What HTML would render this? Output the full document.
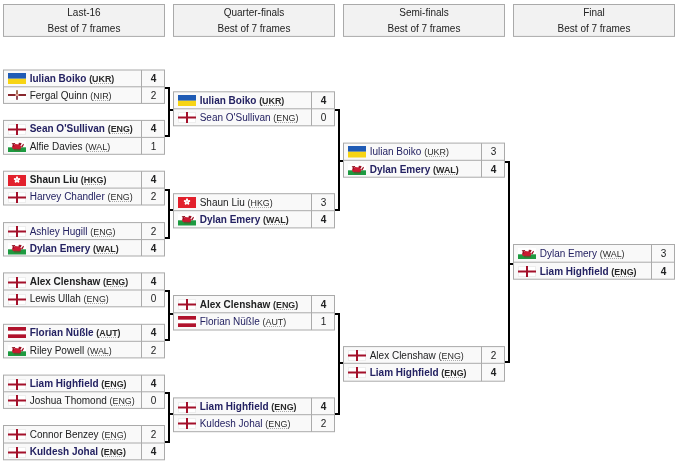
<!DOCTYPE html>
<html><head><meta charset="utf-8">
<style>
html,body{margin:0;padding:0;background:#fff;width:680px;height:464px;overflow:hidden}
body{position:relative;font-family:"Liberation Sans",sans-serif;font-size:10px;color:#202122}
#bg{position:absolute;left:0;top:0}
#tx{position:absolute;left:0;top:0;width:680px;height:464px;will-change:transform}
.hd{position:absolute;top:4px;width:162px;height:33px;text-align:center;color:#222}
.h1{position:absolute;left:0;right:0;top:3px;line-height:12px}
.h2{position:absolute;left:0;right:0;top:18.5px;line-height:12px}
.fl{position:absolute;display:block}
.nm{position:absolute;white-space:nowrap;line-height:12px;font-size:10px}
.nm.lk{color:#242262}
.b{font-weight:bold}
.cc{font-size:8.9px;color:#2a2a2a}
.cc u{text-decoration:underline dotted #aaa;text-underline-offset:1px}
.sc{position:absolute;width:23px;text-align:center;line-height:12px}
</style></head><body>
<svg id="bg" width="680" height="464" viewBox="0 0 680 464" fill="#000">
<rect x="3.5" y="4.5" width="161" height="31.9" fill="#f2f2f2" stroke="#aaa"/>
<rect x="173.5" y="4.5" width="161" height="31.9" fill="#f2f2f2" stroke="#aaa"/>
<rect x="343.5" y="4.5" width="161" height="31.9" fill="#f2f2f2" stroke="#aaa"/>
<rect x="513.5" y="4.5" width="161" height="31.9" fill="#f2f2f2" stroke="#aaa"/>
<rect x="3.5" y="70.0" width="161" height="33.4" fill="#f9f9f9" stroke="#aaa"/>
<path d="M3 86.8H165M141.5 70.0V103.4" stroke="#aaa"/>
<rect x="3.5" y="120.4" width="161" height="33.9" fill="#f9f9f9" stroke="#aaa"/>
<path d="M3 137.4H165M141.5 120.4V154.3" stroke="#aaa"/>
<rect x="3.5" y="171.2" width="161" height="33.8" fill="#f9f9f9" stroke="#aaa"/>
<path d="M3 188.1H165M141.5 171.2V205.0" stroke="#aaa"/>
<rect x="3.5" y="222.6" width="161" height="33.4" fill="#f9f9f9" stroke="#aaa"/>
<path d="M3 239.6H165M141.5 222.6V256.0" stroke="#aaa"/>
<rect x="3.5" y="272.9" width="161" height="33.9" fill="#f9f9f9" stroke="#aaa"/>
<path d="M3 290.0H165M141.5 272.9V306.8" stroke="#aaa"/>
<rect x="3.5" y="324.3" width="161" height="33.6" fill="#f9f9f9" stroke="#aaa"/>
<path d="M3 341.3H165M141.5 324.3V357.9" stroke="#aaa"/>
<rect x="3.5" y="375.1" width="161" height="33.3" fill="#f9f9f9" stroke="#aaa"/>
<path d="M3 391.8H165M141.5 375.1V408.4" stroke="#aaa"/>
<rect x="3.5" y="425.5" width="161" height="34.3" fill="#f9f9f9" stroke="#aaa"/>
<path d="M3 443.0H165M141.5 425.5V459.8" stroke="#aaa"/>
<rect x="173.5" y="91.8" width="161" height="34.0" fill="#f9f9f9" stroke="#aaa"/>
<path d="M173 108.8H335M311.5 91.8V125.8" stroke="#aaa"/>
<rect x="173.5" y="193.7" width="161" height="34.2" fill="#f9f9f9" stroke="#aaa"/>
<path d="M173 210.7H335M311.5 193.7V227.9" stroke="#aaa"/>
<rect x="173.5" y="295.5" width="161" height="34.5" fill="#f9f9f9" stroke="#aaa"/>
<path d="M173 312.8H335M311.5 295.5V330.0" stroke="#aaa"/>
<rect x="173.5" y="397.9" width="161" height="33.8" fill="#f9f9f9" stroke="#aaa"/>
<path d="M173 414.7H335M311.5 397.9V431.7" stroke="#aaa"/>
<rect x="343.5" y="143.1" width="161" height="34.1" fill="#f9f9f9" stroke="#aaa"/>
<path d="M343 160.3H505M481.5 143.1V177.2" stroke="#aaa"/>
<rect x="343.5" y="346.6" width="161" height="34.6" fill="#f9f9f9" stroke="#aaa"/>
<path d="M343 363.3H505M481.5 346.6V381.2" stroke="#aaa"/>
<rect x="513.5" y="244.5" width="161" height="34.7" fill="#f9f9f9" stroke="#aaa"/>
<path d="M513 262.2H675M651.5 244.5V279.2" stroke="#aaa"/>
<rect x="165" y="87" width="5" height="2"/><rect x="168" y="87" width="2" height="50"/><rect x="165" y="135" width="5" height="2"/><rect x="170" y="109" width="3" height="2"/>
<rect x="165" y="189" width="5" height="2"/><rect x="168" y="189" width="2" height="50"/><rect x="165" y="237" width="5" height="2"/><rect x="170" y="209" width="3" height="2"/>
<rect x="165" y="290" width="5" height="2"/><rect x="168" y="290" width="2" height="51"/><rect x="165" y="339" width="5" height="2"/><rect x="170" y="313" width="3" height="2"/>
<rect x="165" y="392" width="5" height="2"/><rect x="168" y="392" width="2" height="51"/><rect x="165" y="441" width="5" height="2"/><rect x="170" y="413" width="3" height="2"/>
<rect x="335" y="109" width="5" height="2"/><rect x="338" y="109" width="2" height="102"/><rect x="335" y="209" width="5" height="2"/><rect x="340" y="160" width="3" height="2"/>
<rect x="335" y="313" width="5" height="2"/><rect x="338" y="313" width="2" height="102"/><rect x="335" y="413" width="5" height="2"/><rect x="340" y="362" width="3" height="2"/>
<rect x="505" y="161" width="5" height="2"/><rect x="508" y="161" width="2" height="202"/><rect x="505" y="361" width="5" height="2"/><rect x="510" y="263" width="3" height="2"/>
</svg>
<div id="tx">
<div class="hd" style="left:3px"><div class="h1">Last-16</div><div class="h2">Best of 7 frames</div></div>
<div class="hd" style="left:173px"><div class="h1">Quarter-finals</div><div class="h2">Best of 7 frames</div></div>
<div class="hd" style="left:343px"><div class="h1">Semi-finals</div><div class="h2">Best of 7 frames</div></div>
<div class="hd" style="left:513px"><div class="h1">Final</div><div class="h2">Best of 7 frames</div></div>
<svg class="fl" style="left:8px;top:72.9px" width="18" height="11.5" viewBox="0 0 18 11.5"><rect width="18" height="5.75" fill="#1f5bb5"/><rect y="5.75" width="18" height="5.75" fill="#f7d414"/></svg>
<div class="nm b lk" style="left:29.7px;top:73.0px">Iulian Boiko <span class="cc">(<u>UKR</u>)</span></div>
<div class="sc b" style="left:142px;top:73.0px">4</div>
<svg class="fl" style="left:8px;top:90.2px" width="18" height="10" viewBox="0 0 18 10"><rect width="18" height="10" fill="#fff"/><rect y="4.1" width="18" height="1.8" fill="#7c1018"/><rect x="8.2" y="0.2" width="1.6" height="4.0" fill="#8a4a30"/><rect x="8.2" y="5.9" width="1.6" height="3.9" fill="#742030"/><rect x="7.4" y="4.1" width="3.2" height="1.8" fill="#f0b8a8"/></svg>
<div class="nm" style="left:29.7px;top:90.1px">Fergal Quinn <span class="cc">(<u>NIR</u>)</span></div>
<div class="sc" style="left:142px;top:90.1px">2</div>
<svg class="fl" style="left:8px;top:124.0px" width="18" height="11" viewBox="0 0 18 11"><rect x=".5" y=".5" width="17" height="10" fill="#fff" stroke="#eee"/><rect x="8.0" width="2" height="11" fill="#a3102a"/><rect y="4.5" width="18" height="2" fill="#a3102a"/></svg>
<div class="nm b lk" style="left:29.7px;top:123.4px">Sean O'Sullivan <span class="cc">(<u>ENG</u>)</span></div>
<div class="sc b" style="left:142px;top:123.4px">4</div>
<svg class="fl" style="left:8px;top:140.8px" width="18" height="11.5" viewBox="0 0 18 11.5"><rect width="18" height="11.5" fill="#fff"/><rect y="6.3" width="18" height="5.2" fill="#1d9a40"/><path d="M4 6 C4.6 3.6 6.6 2.8 8.6 3.2 C10.6 3 12.2 3.8 13 5.2 L13.2 7.4 L10.5 8.2 L7.5 7.8 L5 8.3 Z" fill="#cc1a32"/><path d="M3.6 2.3 L7.2 1.9 L7 3 L5.8 3.2 L6.4 5.6 L5 5.8 L4.6 3.4 Z" fill="#8e1424"/><path d="M10.3 4 L10.9 1.8 L13.6 2.0 L12.8 4.5 Z" fill="#9a1426"/><path d="M13 5.6 L15.3 2.8 L16 3.4 L14.4 6.6 Z" fill="#a01426"/><path d="M5.5 7.8 L13 7.8 L12.5 9.4 L6.5 9.4 Z" fill="#7a3020" opacity=".55"/></svg>
<div class="nm" style="left:29.7px;top:140.7px">Alfie Davies <span class="cc">(<u>WAL</u>)</span></div>
<div class="sc" style="left:142px;top:140.7px">1</div>
<svg class="fl" style="left:8px;top:174.7px" width="18" height="11" viewBox="0 0 18 11"><rect width="18" height="11" fill="#e2202c"/><ellipse cx="9.00" cy="3.10" rx="1.1" ry="1.8" transform="rotate(0 9.00 3.10)" fill="#fff"/><ellipse cx="10.52" cy="4.21" rx="1.1" ry="1.8" transform="rotate(72 10.52 4.21)" fill="#fff"/><ellipse cx="9.94" cy="5.99" rx="1.1" ry="1.8" transform="rotate(144 9.94 5.99)" fill="#fff"/><ellipse cx="8.06" cy="5.99" rx="1.1" ry="1.8" transform="rotate(216 8.06 5.99)" fill="#fff"/><ellipse cx="7.48" cy="4.21" rx="1.1" ry="1.8" transform="rotate(288 7.48 4.21)" fill="#fff"/><circle cx="9.0" cy="4.7" r=".5" fill="#e2202c"/></svg>
<div class="nm b" style="left:29.7px;top:174.2px">Shaun Liu <span class="cc">(<u>HKG</u>)</span></div>
<div class="sc b" style="left:142px;top:174.2px">4</div>
<svg class="fl" style="left:8px;top:191.7px" width="18" height="11" viewBox="0 0 18 11"><rect x=".5" y=".5" width="17" height="10" fill="#fff" stroke="#eee"/><rect x="8.0" width="2" height="11" fill="#a3102a"/><rect y="4.5" width="18" height="2" fill="#a3102a"/></svg>
<div class="nm lk" style="left:29.7px;top:191.4px">Harvey Chandler <span class="cc">(<u>ENG</u>)</span></div>
<div class="sc" style="left:142px;top:191.4px">2</div>
<svg class="fl" style="left:8px;top:226.2px" width="18" height="11" viewBox="0 0 18 11"><rect x=".5" y=".5" width="17" height="10" fill="#fff" stroke="#eee"/><rect x="8.0" width="2" height="11" fill="#a3102a"/><rect y="4.5" width="18" height="2" fill="#a3102a"/></svg>
<div class="nm lk" style="left:29.7px;top:225.6px">Ashley Hugill <span class="cc">(<u>ENG</u>)</span></div>
<div class="sc" style="left:142px;top:225.6px">2</div>
<svg class="fl" style="left:8px;top:243.0px" width="18" height="11.5" viewBox="0 0 18 11.5"><rect width="18" height="11.5" fill="#fff"/><rect y="6.3" width="18" height="5.2" fill="#1d9a40"/><path d="M4 6 C4.6 3.6 6.6 2.8 8.6 3.2 C10.6 3 12.2 3.8 13 5.2 L13.2 7.4 L10.5 8.2 L7.5 7.8 L5 8.3 Z" fill="#cc1a32"/><path d="M3.6 2.3 L7.2 1.9 L7 3 L5.8 3.2 L6.4 5.6 L5 5.8 L4.6 3.4 Z" fill="#8e1424"/><path d="M10.3 4 L10.9 1.8 L13.6 2.0 L12.8 4.5 Z" fill="#9a1426"/><path d="M13 5.6 L15.3 2.8 L16 3.4 L14.4 6.6 Z" fill="#a01426"/><path d="M5.5 7.8 L13 7.8 L12.5 9.4 L6.5 9.4 Z" fill="#7a3020" opacity=".55"/></svg>
<div class="nm b lk" style="left:29.7px;top:242.9px">Dylan Emery <span class="cc">(<u>WAL</u>)</span></div>
<div class="sc b" style="left:142px;top:242.9px">4</div>
<svg class="fl" style="left:8px;top:276.5px" width="18" height="11" viewBox="0 0 18 11"><rect x=".5" y=".5" width="17" height="10" fill="#fff" stroke="#eee"/><rect x="8.0" width="2" height="11" fill="#a3102a"/><rect y="4.5" width="18" height="2" fill="#a3102a"/></svg>
<div class="nm b" style="left:29.7px;top:275.9px">Alex Clenshaw <span class="cc">(<u>ENG</u>)</span></div>
<div class="sc b" style="left:142px;top:275.9px">4</div>
<svg class="fl" style="left:8px;top:293.6px" width="18" height="11" viewBox="0 0 18 11"><rect x=".5" y=".5" width="17" height="10" fill="#fff" stroke="#eee"/><rect x="8.0" width="2" height="11" fill="#a3102a"/><rect y="4.5" width="18" height="2" fill="#a3102a"/></svg>
<div class="nm" style="left:29.7px;top:293.3px">Lewis Ullah <span class="cc">(<u>ENG</u>)</span></div>
<div class="sc" style="left:142px;top:293.3px">0</div>
<svg class="fl" style="left:8px;top:327.3px" width="18" height="11" viewBox="0 0 18 11"><rect width="18" height="11" fill="#fff"/><rect width="18" height="3.6666666666666665" fill="#b0122c"/><rect y="7.333333333333333" width="18" height="3.6666666666666665" fill="#b0122c"/></svg>
<div class="nm b lk" style="left:29.7px;top:327.3px">Florian Nüßle <span class="cc">(<u>AUT</u>)</span></div>
<div class="sc b" style="left:142px;top:327.3px">4</div>
<svg class="fl" style="left:8px;top:344.7px" width="18" height="11.5" viewBox="0 0 18 11.5"><rect width="18" height="11.5" fill="#fff"/><rect y="6.3" width="18" height="5.2" fill="#1d9a40"/><path d="M4 6 C4.6 3.6 6.6 2.8 8.6 3.2 C10.6 3 12.2 3.8 13 5.2 L13.2 7.4 L10.5 8.2 L7.5 7.8 L5 8.3 Z" fill="#cc1a32"/><path d="M3.6 2.3 L7.2 1.9 L7 3 L5.8 3.2 L6.4 5.6 L5 5.8 L4.6 3.4 Z" fill="#8e1424"/><path d="M10.3 4 L10.9 1.8 L13.6 2.0 L12.8 4.5 Z" fill="#9a1426"/><path d="M13 5.6 L15.3 2.8 L16 3.4 L14.4 6.6 Z" fill="#a01426"/><path d="M5.5 7.8 L13 7.8 L12.5 9.4 L6.5 9.4 Z" fill="#7a3020" opacity=".55"/></svg>
<div class="nm" style="left:29.7px;top:344.6px">Riley Powell <span class="cc">(<u>WAL</u>)</span></div>
<div class="sc" style="left:142px;top:344.6px">2</div>
<svg class="fl" style="left:8px;top:378.7px" width="18" height="11" viewBox="0 0 18 11"><rect x=".5" y=".5" width="17" height="10" fill="#fff" stroke="#eee"/><rect x="8.0" width="2" height="11" fill="#a3102a"/><rect y="4.5" width="18" height="2" fill="#a3102a"/></svg>
<div class="nm b lk" style="left:29.7px;top:378.1px">Liam Highfield <span class="cc">(<u>ENG</u>)</span></div>
<div class="sc b" style="left:142px;top:378.1px">4</div>
<svg class="fl" style="left:8px;top:395.4px" width="18" height="11" viewBox="0 0 18 11"><rect x=".5" y=".5" width="17" height="10" fill="#fff" stroke="#eee"/><rect x="8.0" width="2" height="11" fill="#a3102a"/><rect y="4.5" width="18" height="2" fill="#a3102a"/></svg>
<div class="nm" style="left:29.7px;top:395.1px">Joshua Thomond <span class="cc">(<u>ENG</u>)</span></div>
<div class="sc" style="left:142px;top:395.1px">0</div>
<svg class="fl" style="left:8px;top:429.1px" width="18" height="11" viewBox="0 0 18 11"><rect x=".5" y=".5" width="17" height="10" fill="#fff" stroke="#eee"/><rect x="8.0" width="2" height="11" fill="#a3102a"/><rect y="4.5" width="18" height="2" fill="#a3102a"/></svg>
<div class="nm" style="left:29.7px;top:428.5px">Connor Benzey <span class="cc">(<u>ENG</u>)</span></div>
<div class="sc" style="left:142px;top:428.5px">2</div>
<svg class="fl" style="left:8px;top:446.6px" width="18" height="11" viewBox="0 0 18 11"><rect x=".5" y=".5" width="17" height="10" fill="#fff" stroke="#eee"/><rect x="8.0" width="2" height="11" fill="#a3102a"/><rect y="4.5" width="18" height="2" fill="#a3102a"/></svg>
<div class="nm b lk" style="left:29.7px;top:446.3px">Kuldesh Johal <span class="cc">(<u>ENG</u>)</span></div>
<div class="sc b" style="left:142px;top:446.3px">4</div>
<svg class="fl" style="left:178px;top:94.7px" width="18" height="11.5" viewBox="0 0 18 11.5"><rect width="18" height="5.75" fill="#1f5bb5"/><rect y="5.75" width="18" height="5.75" fill="#f7d414"/></svg>
<div class="nm b lk" style="left:199.7px;top:94.8px">Iulian Boiko <span class="cc">(<u>UKR</u>)</span></div>
<div class="sc b" style="left:312px;top:94.8px">4</div>
<svg class="fl" style="left:178px;top:112.4px" width="18" height="11" viewBox="0 0 18 11"><rect x=".5" y=".5" width="17" height="10" fill="#fff" stroke="#eee"/><rect x="8.0" width="2" height="11" fill="#a3102a"/><rect y="4.5" width="18" height="2" fill="#a3102a"/></svg>
<div class="nm lk" style="left:199.7px;top:112.1px">Sean O'Sullivan <span class="cc">(<u>ENG</u>)</span></div>
<div class="sc" style="left:312px;top:112.1px">0</div>
<svg class="fl" style="left:178px;top:197.2px" width="18" height="11" viewBox="0 0 18 11"><rect width="18" height="11" fill="#e2202c"/><ellipse cx="9.00" cy="3.10" rx="1.1" ry="1.8" transform="rotate(0 9.00 3.10)" fill="#fff"/><ellipse cx="10.52" cy="4.21" rx="1.1" ry="1.8" transform="rotate(72 10.52 4.21)" fill="#fff"/><ellipse cx="9.94" cy="5.99" rx="1.1" ry="1.8" transform="rotate(144 9.94 5.99)" fill="#fff"/><ellipse cx="8.06" cy="5.99" rx="1.1" ry="1.8" transform="rotate(216 8.06 5.99)" fill="#fff"/><ellipse cx="7.48" cy="4.21" rx="1.1" ry="1.8" transform="rotate(288 7.48 4.21)" fill="#fff"/><circle cx="9.0" cy="4.7" r=".5" fill="#e2202c"/></svg>
<div class="nm" style="left:199.7px;top:196.7px">Shaun Liu <span class="cc">(<u>HKG</u>)</span></div>
<div class="sc" style="left:312px;top:196.7px">3</div>
<svg class="fl" style="left:178px;top:214.1px" width="18" height="11.5" viewBox="0 0 18 11.5"><rect width="18" height="11.5" fill="#fff"/><rect y="6.3" width="18" height="5.2" fill="#1d9a40"/><path d="M4 6 C4.6 3.6 6.6 2.8 8.6 3.2 C10.6 3 12.2 3.8 13 5.2 L13.2 7.4 L10.5 8.2 L7.5 7.8 L5 8.3 Z" fill="#cc1a32"/><path d="M3.6 2.3 L7.2 1.9 L7 3 L5.8 3.2 L6.4 5.6 L5 5.8 L4.6 3.4 Z" fill="#8e1424"/><path d="M10.3 4 L10.9 1.8 L13.6 2.0 L12.8 4.5 Z" fill="#9a1426"/><path d="M13 5.6 L15.3 2.8 L16 3.4 L14.4 6.6 Z" fill="#a01426"/><path d="M5.5 7.8 L13 7.8 L12.5 9.4 L6.5 9.4 Z" fill="#7a3020" opacity=".55"/></svg>
<div class="nm b lk" style="left:199.7px;top:214.0px">Dylan Emery <span class="cc">(<u>WAL</u>)</span></div>
<div class="sc b" style="left:312px;top:214.0px">4</div>
<svg class="fl" style="left:178px;top:299.1px" width="18" height="11" viewBox="0 0 18 11"><rect x=".5" y=".5" width="17" height="10" fill="#fff" stroke="#eee"/><rect x="8.0" width="2" height="11" fill="#a3102a"/><rect y="4.5" width="18" height="2" fill="#a3102a"/></svg>
<div class="nm b" style="left:199.7px;top:298.5px">Alex Clenshaw <span class="cc">(<u>ENG</u>)</span></div>
<div class="sc b" style="left:312px;top:298.5px">4</div>
<svg class="fl" style="left:178px;top:315.8px" width="18" height="11" viewBox="0 0 18 11"><rect width="18" height="11" fill="#fff"/><rect width="18" height="3.6666666666666665" fill="#b0122c"/><rect y="7.333333333333333" width="18" height="3.6666666666666665" fill="#b0122c"/></svg>
<div class="nm lk" style="left:199.7px;top:316.1px">Florian Nüßle <span class="cc">(<u>AUT</u>)</span></div>
<div class="sc" style="left:312px;top:316.1px">1</div>
<svg class="fl" style="left:178px;top:401.5px" width="18" height="11" viewBox="0 0 18 11"><rect x=".5" y=".5" width="17" height="10" fill="#fff" stroke="#eee"/><rect x="8.0" width="2" height="11" fill="#a3102a"/><rect y="4.5" width="18" height="2" fill="#a3102a"/></svg>
<div class="nm b lk" style="left:199.7px;top:400.9px">Liam Highfield <span class="cc">(<u>ENG</u>)</span></div>
<div class="sc b" style="left:312px;top:400.9px">4</div>
<svg class="fl" style="left:178px;top:418.3px" width="18" height="11" viewBox="0 0 18 11"><rect x=".5" y=".5" width="17" height="10" fill="#fff" stroke="#eee"/><rect x="8.0" width="2" height="11" fill="#a3102a"/><rect y="4.5" width="18" height="2" fill="#a3102a"/></svg>
<div class="nm lk" style="left:199.7px;top:418.0px">Kuldesh Johal <span class="cc">(<u>ENG</u>)</span></div>
<div class="sc" style="left:312px;top:418.0px">2</div>
<svg class="fl" style="left:348px;top:146.0px" width="18" height="11.5" viewBox="0 0 18 11.5"><rect width="18" height="5.75" fill="#1f5bb5"/><rect y="5.75" width="18" height="5.75" fill="#f7d414"/></svg>
<div class="nm lk" style="left:369.7px;top:146.1px">Iulian Boiko <span class="cc">(<u>UKR</u>)</span></div>
<div class="sc" style="left:482px;top:146.1px">3</div>
<svg class="fl" style="left:348px;top:163.7px" width="18" height="11.5" viewBox="0 0 18 11.5"><rect width="18" height="11.5" fill="#fff"/><rect y="6.3" width="18" height="5.2" fill="#1d9a40"/><path d="M4 6 C4.6 3.6 6.6 2.8 8.6 3.2 C10.6 3 12.2 3.8 13 5.2 L13.2 7.4 L10.5 8.2 L7.5 7.8 L5 8.3 Z" fill="#cc1a32"/><path d="M3.6 2.3 L7.2 1.9 L7 3 L5.8 3.2 L6.4 5.6 L5 5.8 L4.6 3.4 Z" fill="#8e1424"/><path d="M10.3 4 L10.9 1.8 L13.6 2.0 L12.8 4.5 Z" fill="#9a1426"/><path d="M13 5.6 L15.3 2.8 L16 3.4 L14.4 6.6 Z" fill="#a01426"/><path d="M5.5 7.8 L13 7.8 L12.5 9.4 L6.5 9.4 Z" fill="#7a3020" opacity=".55"/></svg>
<div class="nm b lk" style="left:369.7px;top:163.6px">Dylan Emery <span class="cc">(<u>WAL</u>)</span></div>
<div class="sc b" style="left:482px;top:163.6px">4</div>
<svg class="fl" style="left:348px;top:350.2px" width="18" height="11" viewBox="0 0 18 11"><rect x=".5" y=".5" width="17" height="10" fill="#fff" stroke="#eee"/><rect x="8.0" width="2" height="11" fill="#a3102a"/><rect y="4.5" width="18" height="2" fill="#a3102a"/></svg>
<div class="nm" style="left:369.7px;top:349.6px">Alex Clenshaw <span class="cc">(<u>ENG</u>)</span></div>
<div class="sc" style="left:482px;top:349.6px">2</div>
<svg class="fl" style="left:348px;top:366.9px" width="18" height="11" viewBox="0 0 18 11"><rect x=".5" y=".5" width="17" height="10" fill="#fff" stroke="#eee"/><rect x="8.0" width="2" height="11" fill="#a3102a"/><rect y="4.5" width="18" height="2" fill="#a3102a"/></svg>
<div class="nm b lk" style="left:369.7px;top:366.6px">Liam Highfield <span class="cc">(<u>ENG</u>)</span></div>
<div class="sc b" style="left:482px;top:366.6px">4</div>
<svg class="fl" style="left:518px;top:247.9px" width="18" height="11.5" viewBox="0 0 18 11.5"><rect width="18" height="11.5" fill="#fff"/><rect y="6.3" width="18" height="5.2" fill="#1d9a40"/><path d="M4 6 C4.6 3.6 6.6 2.8 8.6 3.2 C10.6 3 12.2 3.8 13 5.2 L13.2 7.4 L10.5 8.2 L7.5 7.8 L5 8.3 Z" fill="#cc1a32"/><path d="M3.6 2.3 L7.2 1.9 L7 3 L5.8 3.2 L6.4 5.6 L5 5.8 L4.6 3.4 Z" fill="#8e1424"/><path d="M10.3 4 L10.9 1.8 L13.6 2.0 L12.8 4.5 Z" fill="#9a1426"/><path d="M13 5.6 L15.3 2.8 L16 3.4 L14.4 6.6 Z" fill="#a01426"/><path d="M5.5 7.8 L13 7.8 L12.5 9.4 L6.5 9.4 Z" fill="#7a3020" opacity=".55"/></svg>
<div class="nm lk" style="left:539.7px;top:247.5px">Dylan Emery <span class="cc">(<u>WAL</u>)</span></div>
<div class="sc" style="left:652px;top:247.5px">3</div>
<svg class="fl" style="left:518px;top:265.8px" width="18" height="11" viewBox="0 0 18 11"><rect x=".5" y=".5" width="17" height="10" fill="#fff" stroke="#eee"/><rect x="8.0" width="2" height="11" fill="#a3102a"/><rect y="4.5" width="18" height="2" fill="#a3102a"/></svg>
<div class="nm b lk" style="left:539.7px;top:265.5px">Liam Highfield <span class="cc">(<u>ENG</u>)</span></div>
<div class="sc b" style="left:652px;top:265.5px">4</div>
</div>
</body></html>
